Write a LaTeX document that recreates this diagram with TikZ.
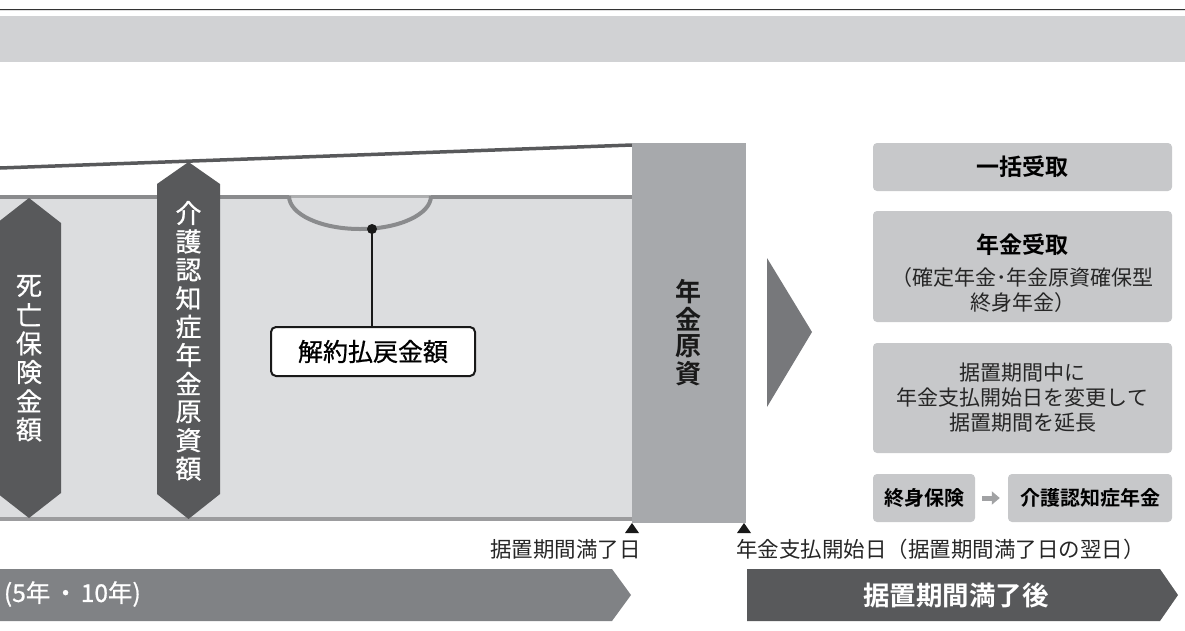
\documentclass[tikz,border=0pt]{standalone}
\usepackage{fontspec}
\setmainfont{Noto Sans CJK JP}[BoldFont={Noto Sans CJK JP Bold}]
\newfontfamily\medfont{Noto Sans CJK JP}[FakeBold=0.8]
\usetikzlibrary{positioning,arrows.meta}

\begin{document}
\begin{tikzpicture}[x=1pt, y=-1pt,
  optbox/.style={fill=optgray, rounded corners=4pt, inner sep=0pt, align=center},
  hexlabel/.style={text=white, inner sep=0pt, font=\medfont\fontsize{26}{28}\selectfont},
  datelabel/.style={font=\fontsize{21.5}{24}\selectfont, text=black!85, inner sep=0pt},
  optlabel/.style={font=\fontsize{21}{25}\selectfont, text=black!85}]
  \definecolor{bandgray}{HTML}{D1D2D4}
  \definecolor{areagray}{HTML}{DCDDDF}
  \definecolor{edgegray}{HTML}{8A8B8D}
  \definecolor{darkgray}{HTML}{58595B}
  \definecolor{fundgray}{HTML}{A7A9AC}
  \definecolor{pointgray}{HTML}{77787B}
  \definecolor{optgray}{HTML}{C7C8CA}
  \definecolor{periodgray}{HTML}{808285}
  \useasboundingbox (0,0) rectangle (1185,630);

  % header
  \draw[line width=1.3pt, black!80] (0,9.3) -- (1185,9.3);
  \draw[line width=0.8pt, black!12] (0,10.8) -- (1185,10.8);
  \fill[bandgray] (0,16) rectangle (1185,62);

  % deferment period area
  \fill[areagray] (0,197) rectangle (632,519);
  \draw[line width=3.5pt, darkgray] (0,168) -- (632,145);
  \draw[line width=4pt, edgegray] (0,197) -- (289,197) (431,197) -- (632,197);
  \draw[line width=2.5pt, edgegray!70] (289,196.5) -- (431,196.5);
  \draw[line width=4pt, edgegray!85] (0,519) -- (632,519);
  \draw[line width=4pt, edgegray] (289,196) arc[start angle=180, end angle=360, x radius=71pt, y radius=33pt];

  \fill[darkgray] (-3,223) -- (29,198) -- (61,223) -- (61,493) -- (29,518) -- (-3,493) -- cycle;
  \foreach \ch [count=\i] in {死,亡,保,険,金,額} {
    \node[hexlabel] (death-\i) at (29,286+28.7*\i-28.7) {\ch};
  }
  \fill[darkgray] (157,184) -- (188.5,162) -- (220,184) -- (220,494) -- (188.5,519) -- (157,494) -- cycle;
  \foreach \ch [count=\i] in {介,護,認,知,症,年,金,原,資,額} {
    \node[hexlabel] (care-\i) at (188.5,213+28.4*\i-28.4) {\ch};
  }

  \coordinate (dot) at (372,229);
  \node[draw=black!90, line width=2pt, fill=white, rounded corners=5pt, minimum width=204pt,
    minimum height=49pt, inner sep=0pt, font=\medfont\fontsize{25}{27}\selectfont] (surr) at (373,351.5) {解約払戻金額};
  \draw[line width=1.6pt, black!90] (dot) -- (dot |- surr.north);
  \fill[black!90] (dot) circle[radius=5pt];

  % pension fund
  \fill[fundgray] (632,143) rectangle (746,523);
  \foreach \ch [count=\i] in {年,金,原,資} {
    \node[inner sep=0pt, font=\bfseries\fontsize{26}{28}\selectfont, text=black!90] (fund-\i) at (688,292+27.3*\i-27.3) {\ch};
  }
  \foreach \mx in {632,744} {
    \fill[black!90] (\mx-7,533) -- (\mx,523) -- (\mx+7,533) -- cycle;
  }
  \node[datelabel, anchor=east] (enddate) at (641,549) {据置期間満了日};
  \node[datelabel, anchor=west] (startdate) at (736,549) {年金支払開始日（据置期間満了日の翌日）};

  \fill[pointgray] (767,258) -- (812,332) -- (767,407) -- cycle;

  % options
  \node[optbox, minimum width=299pt, minimum height=48pt, font=\bfseries\fontsize{23}{25}\selectfont] (lump) at (1022.5,167) {一括受取};
  \node[optbox, minimum width=299pt, minimum height=111pt] (annuity) at (1022.5,266.5) {};
  \node[font=\bfseries\fontsize{23}{25}\selectfont] (annuityhead) at (1022.5,245) {年金受取};
  \node[optlabel, align=center] (annuitytext) at (1022.5,290.5) {（確定年金･年金原資確保型\\終身年金）};
  \node[optbox, optlabel, minimum width=299pt, minimum height=110pt] (extend) at (1022.5,398)
    {据置期間中に\\年金支払開始日を変更して\\据置期間を延長};
  \node[optbox, minimum width=102pt, minimum height=48pt, font=\bfseries\fontsize{20}{22}\selectfont] (life) at (924,498) {終身保険};
  \node[optbox, minimum width=164pt, minimum height=48pt, font=\bfseries\fontsize{20}{22}\selectfont] (carepension) at (1090,498) {介護認知症年金};
  \draw[-{Triangle[length=8pt,width=13pt]}, line width=5pt, edgegray!80]
    ([xshift=7pt]life.east) -- ([xshift=-8pt]carepension.west);

  % periods
  \fill[periodgray] (-5,569) -- (612,569) -- (631,595) -- (612,621) -- (-5,621) -- cycle;
  \node[anchor=east, text=white, font=\medfont\fontsize{24.5}{26}\selectfont, inner sep=0pt] (period) at (141,594)
    {(5年\hspace{3pt}・\hspace{3pt}10年)};
  \fill[darkgray] (747,569) -- (1160,569) -- (1178,595) -- (1160,621) -- (747,621) -- cycle;
  \node[text=white, font=\bfseries\fontsize{26.5}{28}\selectfont] (after) at (956,595) {据置期間満了後};
\end{tikzpicture}
\end{document}
